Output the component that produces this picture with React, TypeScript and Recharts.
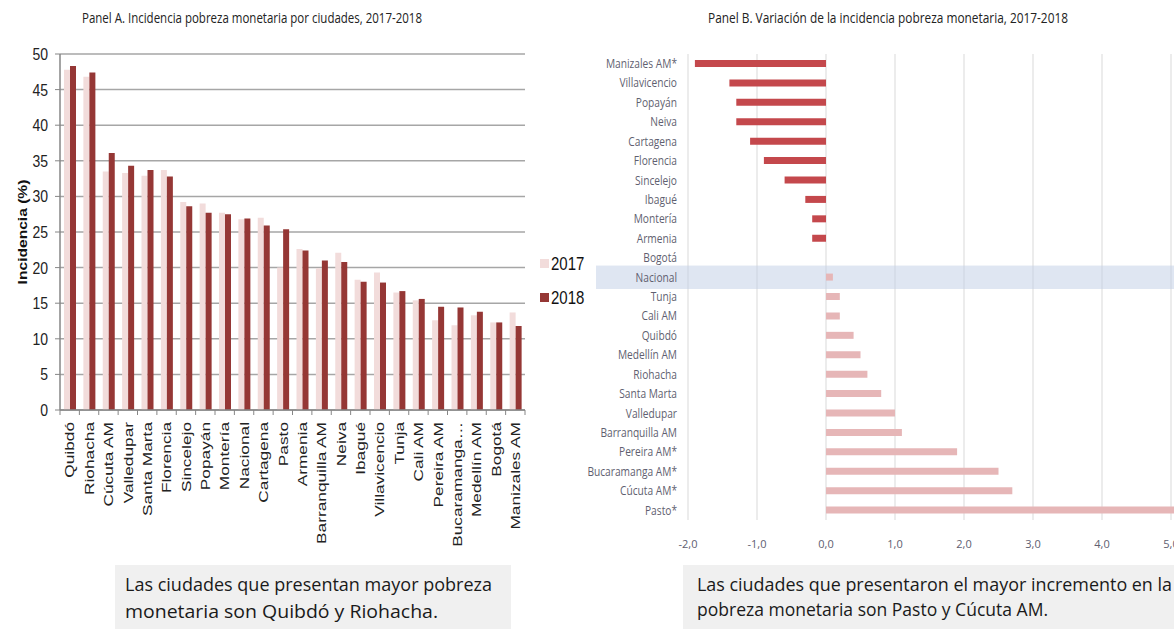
import React from "react";
import {
  Bar,
  BarChart,
  CartesianGrid,
  Cell,
  ReferenceArea,
  XAxis,
  YAxis,
} from "recharts";

// Panel A: incidencia 2017 vs 2018
const CITIES_A = [
  "Quibdó", "Riohacha", "Cúcuta AM", "Valledupar", "Santa Marta", "Florencia",
  "Sincelejo", "Popayán", "Montería", "Nacional", "Cartagena", "Pasto",
  "Armenia", "Barranquilla AM", "Neiva", "Ibagué", "Villavicencio", "Tunja",
  "Cali AM", "Pereira AM", "Bucaramanga…", "Medellín AM", "Bogotá", "Manizales AM",
];
const INC_2017 = [
  47.8, 46.8, 33.5, 33.3, 32.9, 33.7, 29.2, 29.0, 27.7, 26.8, 27.0, 20.0,
  22.6, 19.9, 22.1, 18.3, 19.3, 16.5, 15.4, 12.6, 11.9, 13.3, 12.3, 13.7,
];
const INC_2018 = [
  48.3, 47.4, 36.1, 34.3, 33.7, 32.8, 28.6, 27.7, 27.5, 26.9, 25.9, 25.4,
  22.4, 21.0, 20.8, 18.0, 17.9, 16.7, 15.6, 14.5, 14.4, 13.8, 12.3, 11.8,
];
const TICKS_A = [0, 5, 10, 15, 20, 25, 30, 35, 40, 45, 50];
const SERIES_A = [
  { key: "y2017", name: "2017", color: "#f2dcdb" },
  { key: "y2018", name: "2018", color: "#953735" },
];

// Panel B: variación 2017-2018
const CITIES_B = [
  "Manizales AM*", "Villavicencio", "Popayán", "Neiva", "Cartagena", "Florencia",
  "Sincelejo", "Ibagué", "Montería", "Armenia", "Bogotá", "Nacional", "Tunja",
  "Cali AM", "Quibdó", "Medellín AM", "Riohacha", "Santa Marta", "Valledupar",
  "Barranquilla AM", "Pereira AM*", "Bucaramanga AM*", "Cúcuta AM*", "Pasto*",
];
const VARIACION = [
  -1.9, -1.4, -1.3, -1.3, -1.1, -0.9, -0.6, -0.3, -0.2, -0.2, 0.0, 0.1, 0.2,
  0.2, 0.4, 0.5, 0.6, 0.8, 1.0, 1.1, 1.9, 2.5, 2.7, 5.4,
];
const TICKS_B = [-2, -1, 0, 1, 2, 3, 4, 5, 6];

const dataA = CITIES_A.map((name, i) => ({ name, y2017: INC_2017[i], y2018: INC_2018[i] }));
const dataB = CITIES_B.map((name, i) => ({ name, v: VARIACION[i] }));

const A_W = 600;
const A_LEFT = 60;
const A_RIGHT = 75;
const STEP_A = (A_W - A_LEFT - A_RIGHT) / CITIES_A.length;
const B_YAXIS_W = 118;

const ARIAL = "'Liberation Sans', Arial, sans-serif";
const CALIBRI = "'Open Sans', 'Noto Sans', sans-serif";

const XTickA = (props: any) => {
  const { x, y, payload, index } = props;
  return (
    <g transform={`translate(${x},${y})`}>
      <line x1={-STEP_A / 2} x2={-STEP_A / 2} y1={0} y2={5} stroke="#868686" />
      {index === CITIES_A.length - 1 && (
        <line x1={STEP_A / 2} x2={STEP_A / 2} y1={0} y2={5} stroke="#868686" />
      )}
      <text
        transform="translate(0,12) rotate(-90) scale(1.33,1)"
        textAnchor="end"
        dy="0.36em"
        fontSize={13}
        fontFamily={ARIAL}
        fill="#222"
      >
        {payload.value}
      </text>
    </g>
  );
};

const YTickA = (props: any) => {
  const { x, y, payload } = props;
  return (
    <text
      transform={`translate(${x},${y}) scale(1,1.18)`}
      textAnchor="end"
      dy="0.36em"
      fontSize={14}
      fontFamily={ARIAL}
      fill="#222"
    >
      {payload.value}
    </text>
  );
};

const YTickB = (props: any) => {
  const { x, y, payload } = props;
  return (
    <text
      transform={`translate(${x},${y}) scale(1,1.18)`}
      textAnchor="end"
      dy="0.36em"
      fontSize={10.2}
      fontFamily={CALIBRI}
      fill="#5f5f70"
    >
      {payload.value}
    </text>
  );
};

const NacionalBand = (props: any) => (
  <rect
    x={props.x - 92}
    y={props.y - 2}
    width={props.width + 92}
    height={props.height + 4}
    fill="#bfcde5"
    fillOpacity={0.5}
  />
);

const fmtB = (v: number) => v.toFixed(1).replace(".", ",");

export default function App() {
  return (
    <div
      style={{
        position: "absolute",
        left: 0,
        top: 0,
        width: 1174,
        height: 629,
        overflow: "hidden",
        background: "#fff",
      }}
    >
      <svg width={1174} height={40} style={{ position: "absolute", left: 0, top: 0 }}>
        <text x={82} y={23} fontSize={14} fontFamily={CALIBRI} fill="#222" textLength={340} lengthAdjust="spacingAndGlyphs">
          Panel A. Incidencia pobreza monetaria por ciudades, 2017-2018
        </text>
        <text x={708} y={23} fontSize={14} fontFamily={CALIBRI} fill="#222" textLength={360} lengthAdjust="spacingAndGlyphs">
          Panel B. Variación de la incidencia pobreza monetaria, 2017-2018
        </text>
      </svg>

      <div style={{ position: "absolute", left: 0, top: 0 }}>
        <BarChart
          width={A_W}
          height={560}
          data={dataA}
          barGap={0}
          margin={{ top: 54, right: A_RIGHT, left: 0, bottom: 0 }}
        >
          <CartesianGrid vertical={false} stroke="#a6a6a6" strokeWidth={1.5} />
          <XAxis
            dataKey="name"
            interval={0}
            height={150}
            tickLine={false}
            tickSize={0}
            tickMargin={0}
            axisLine={{ stroke: "#868686", strokeWidth: 1.5 }}
            tick={<XTickA />}
          />
          <YAxis
            width={A_LEFT}
            domain={[0, 50]}
            ticks={TICKS_A}
            interval={0}
            tickSize={5}
            tickMargin={7}
            axisLine={{ stroke: "#868686", strokeWidth: 1.5 }}
            tickLine={{ stroke: "#868686" }}
            tick={<YTickA />}
            label={(p: any) => {
              const vb = p.viewBox || {};
              const cx = 22;
              const cy = vb.y + vb.height / 2;
              return (
                <text
                  transform={`translate(${cx},${cy}) rotate(-90) scale(1.2,1)`}
                  textAnchor="middle"
                  dy="0.36em"
                  fontSize={13}
                  fontWeight="bold"
                  fontFamily={ARIAL}
                  fill="#111"
                >
                  Incidencia (%)
                </text>
              );
            }}
          />
          {SERIES_A.map((s) => (
            <Bar key={s.key} dataKey={s.key} name={s.name} fill={s.color} barSize={6} isAnimationActive={false} />
          ))}
        </BarChart>
      </div>

      {/* legend of panel A */}
      <div style={{ position: "absolute", left: 540, top: 246, fontFamily: ARIAL, fontSize: 15, color: "#111" }}>
        {SERIES_A.map((s) => (
          <div key={s.key} style={{ display: "flex", alignItems: "center", height: 34 }}>
            <span style={{ width: 9, height: 9, background: s.color, marginRight: 2 }} />
            <span style={{ display: "inline-block", transform: "scaleY(1.18)" }}>{s.name}</span>
          </div>
        ))}
      </div>

      <div style={{ position: "absolute", left: 688 - B_YAXIS_W, top: 0 }}>
        <BarChart
          width={B_YAXIS_W + 8 * 69 + 10}
          height={560}
          data={dataB}
          layout="vertical"
          margin={{ top: 54, right: 10, left: 0, bottom: 0 }}
        >
          <CartesianGrid horizontal={false} stroke="#d9d9d9" />
          <XAxis
            type="number"
            domain={[-2, 6]}
            ticks={TICKS_B}
            interval={0}
            height={40}
            axisLine={false}
            tickLine={false}
            tickMargin={14}
            tickFormatter={fmtB}
            tick={{ fontSize: 11, fontFamily: CALIBRI, fill: "#606070" }}
          />
          <YAxis
            type="category"
            dataKey="name"
            width={B_YAXIS_W}
            interval={0}
            axisLine={false}
            tickLine={false}
            tickSize={0}
            tickMargin={11}
            tick={<YTickB />}
          />
          <Bar dataKey="v" barSize={7} isAnimationActive={false}>
            {dataB.map((d) => (
              <Cell key={d.name} fill={d.v < 0 ? "#c4484c" : "#e6b6b7"} />
            ))}
          </Bar>
          <ReferenceArea
            y1="Nacional"
            y2="Nacional"
            ifOverflow="visible"
            shape={<NacionalBand />}
          />
        </BarChart>
      </div>

      <div style={{ position: "absolute", left: 115, top: 565, width: 396, height: 64, background: "#f0f0f0" }} />
      <div style={{ position: "absolute", left: 683, top: 565, width: 491, height: 64, background: "#f0f0f0" }} />
      <svg width={1174} height={629} style={{ position: "absolute", left: 0, top: 0, pointerEvents: "none" }}>
        <g fontFamily={CALIBRI} fontSize={19} fill="#1a1a1a">
          <text x={125} y={591} textLength={367} lengthAdjust="spacingAndGlyphs">
            Las ciudades que presentan mayor pobreza
          </text>
          <text x={125} y={618} textLength={313} lengthAdjust="spacingAndGlyphs">
            monetaria son Quibdó y Riohacha.
          </text>
          <text x={697} y={591} textLength={475} lengthAdjust="spacingAndGlyphs">
            Las ciudades que presentaron el mayor incremento en la
          </text>
          <text x={697} y={616} textLength={351} lengthAdjust="spacingAndGlyphs">
            pobreza monetaria son Pasto y Cúcuta AM.
          </text>
        </g>
      </svg>
    </div>
  );
}
